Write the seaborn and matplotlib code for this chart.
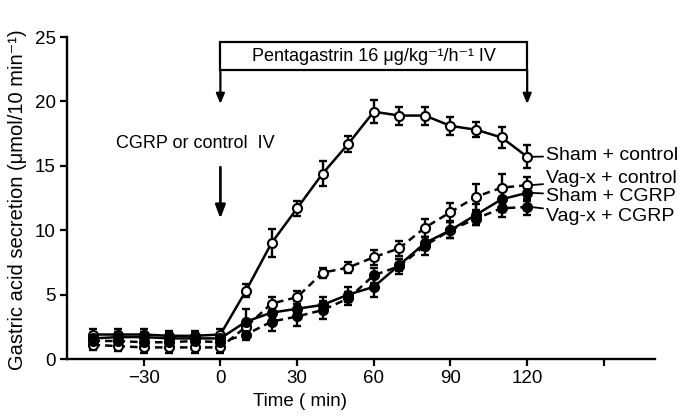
import numpy as np
import pandas as pd
import matplotlib
matplotlib.use("Agg")
import matplotlib.pyplot as plt
import seaborn as sns
from matplotlib.patches import Rectangle

# ---- data ----
times = [-50, -40, -30, -20, -10, 0, 10, 20, 30, 40, 50, 60, 70, 80, 90, 100, 110, 120]
sham_control = [1.9, 1.9, 1.9, 1.8, 1.8, 1.9, 5.3, 9.0, 11.7, 14.4, 16.7, 19.2, 18.9, 18.9, 18.1, 17.8, 17.2, 15.7]
vagx_control = [1.1, 1.0, 0.9, 0.9, 0.9, 0.9, 2.5, 4.3, 4.8, 6.7, 7.1, 7.9, 8.6, 10.2, 11.4, 12.6, 13.3, 13.5]
sham_cgrp = [1.6, 1.7, 1.7, 1.6, 1.6, 1.6, 2.9, 3.6, 3.9, 4.2, 5.0, 5.6, 7.3, 9.0, 10.0, 11.2, 12.4, 12.9]
vagx_cgrp = [1.4, 1.4, 1.3, 1.3, 1.4, 1.3, 1.9, 2.9, 3.3, 3.8, 4.7, 6.5, 7.2, 8.8, 10.0, 10.9, 11.7, 11.8]

sem_sham_control = [0.4, 0.4, 0.4, 0.4, 0.4, 0.4, 0.5, 1.1, 0.6, 1.0, 0.6, 0.9, 0.7, 0.7, 0.7, 0.6, 0.8, 0.9]
sem_vagx_control = [0.4, 0.4, 0.4, 0.4, 0.4, 0.4, 0.4, 0.5, 0.5, 0.4, 0.4, 0.6, 0.6, 0.7, 0.7, 1.0, 1.1, 0.6]
sem_sham_cgrp = [0.4, 0.4, 0.4, 0.4, 0.4, 0.4, 1.0, 0.6, 0.6, 0.6, 0.6, 0.8, 0.5, 0.5, 0.6, 0.8, 1.0, 0.6]
sem_vagx_cgrp = [0.3, 0.3, 0.3, 0.3, 0.3, 0.3, 0.4, 0.7, 0.7, 0.7, 0.5, 0.6, 0.6, 0.7, 0.6, 0.5, 0.7, 0.6]

series_names = ["Sham + control", "Vag-x + control", "Sham + CGRP", "Vag-x + CGRP"]
x_ticks = [-30, 0, 30, 60, 90, 120, 150]
x_tick_labels = ["\u221230", "0", "30", "60", "90", "120", ""]
y_ticks = [0, 5, 10, 15, 20, 25]
label_y = [15.8, 14.0, 12.6, 11.1]

sns.set_style("ticks")
plt.rcParams["font.family"] = ["Liberation Sans", "DejaVu Sans"]
for k in ["text.color", "axes.labelcolor", "xtick.color", "ytick.color", "axes.edgecolor"]:
    plt.rcParams[k] = "black"

fig = plt.figure(figsize=(6.82, 4.17), dpi=100)
ax = fig.add_axes([67 / 682, 1 - 359 / 417, 588 / 682, 322 / 417])

values = [sham_control, vagx_control, sham_cgrp, vagx_cgrp]
sems = [sem_sham_control, sem_vagx_control, sem_sham_cgrp, sem_vagx_cgrp]
dashed = [False, True, False, True]
faces = ["white", "white", "black", "black"]

df = pd.concat([pd.DataFrame({"time": times, "value": v, "group": n})
                for n, v in zip(series_names, values)])

for i, (n, v, s) in enumerate(zip(series_names, values, sems)):
    sub = df[df["group"] == n]
    ax.errorbar(times, v, yerr=s, fmt="none", ecolor="black", elinewidth=1.7,
                capsize=3.2, capthick=1.7, zorder=2 + i * 0.1)
    sns.lineplot(data=sub, x="time", y="value", ax=ax, color="black",
                 linewidth=1.8, marker="o", markersize=6.5,
                 markerfacecolor=faces[i], markeredgecolor="black",
                 markeredgewidth=1.5, zorder=3 + i * 0.1, legend=False)
    if dashed[i]:
        ax.lines[-1].set_linestyle((0, (3, 2)))

ax.set_xlim(-60, 170)
ax.set_ylim(0, 25)
ax.set_xticks(x_ticks)
ax.set_xticklabels(x_tick_labels)
ax.set_yticks(y_ticks)
sns.despine(ax=ax)
for sp in ["left", "bottom"]:
    ax.spines[sp].set_linewidth(1.7)
ax.tick_params(axis="both", direction="out", length=5, width=1.6, labelsize=13.5, pad=3)

ax.set_xlabel("Time ( min)", fontsize=13.5)
ax.xaxis.set_label_coords((300 - 67) / 588, -0.105)
ax.set_ylabel("Gastric acid secretion (\u03bcmol/10 min\u207b\u00b9)", fontsize=14.5)
ax.yaxis.set_label_coords(-0.068, 0.495)

# series labels
for n, v, ly in zip(series_names, values, label_y):
    ax.annotate(n, xy=(121.5, v[-1]), xytext=(127.5, ly), fontsize=14,
                va="center", ha="left",
                arrowprops=dict(arrowstyle="-", color="black", lw=1.3,
                                shrinkA=0, shrinkB=1))

# pentagastrin box
ax.add_patch(Rectangle((0, 22.4), 120, 2.2, fill=False, edgecolor="black",
                       linewidth=1.6, clip_on=False))
ax.text(60, 23.5, "Pentagastrin 16 \u03bcg/kg\u207b\u00b9/h\u207b\u00b9 IV", ha="center",
        va="center", fontsize=13)
for xx in [0, 120]:
    ax.annotate("", xy=(xx, 19.8), xytext=(xx, 22.4),
                arrowprops=dict(arrowstyle="-|>,head_length=0.6,head_width=0.25",
                                color="black", lw=1.6, shrinkA=0, shrinkB=0))

ax.text(-10, 16.7, "CGRP or control  IV", ha="center", va="center", fontsize=13)
ax.annotate("", xy=(0, 10.9), xytext=(0, 14.9),
            arrowprops=dict(arrowstyle="-|>,head_length=0.8,head_width=0.3",
                            color="black", lw=1.9, shrinkA=0, shrinkB=0))

fig.savefig("out.png", dpi=100)
